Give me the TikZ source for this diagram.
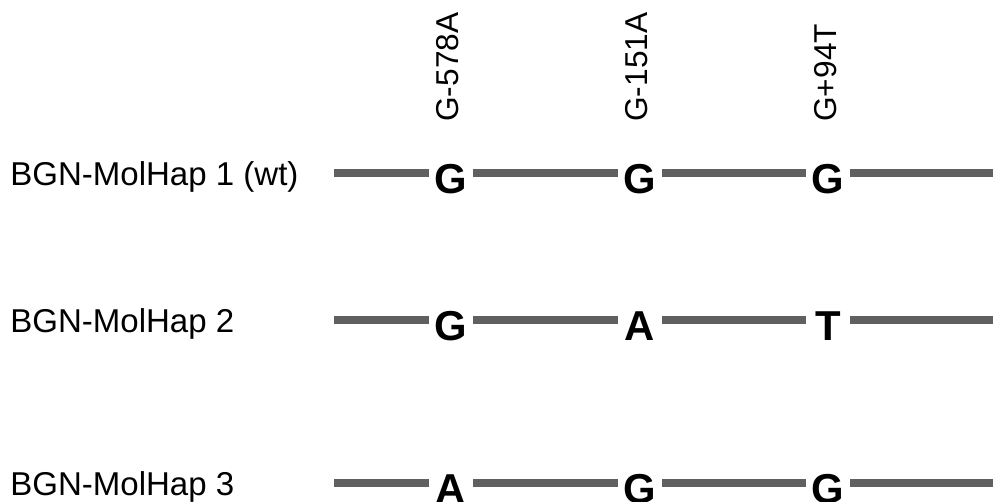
\documentclass[tikz,border=0pt]{standalone}
\usepackage{fontspec}
\setmainfont{Liberation Sans}
\definecolor{strandgray}{RGB}{96,96,96}
\begin{document}
\begin{tikzpicture}[x=0.02cm, y=-0.02cm,
  hap/.style={anchor=base west, inner sep=0, font=\fontsize{18.8}{22}\selectfont},
  snp/.style={rotate=90, anchor=west, inner sep=0, font=\fontsize{18}{22}\selectfont},
  allele/.style={inner sep=0, minimum width=0.88cm, text height=0.8cm, text depth=0, font=\bfseries\fontsize{23.8}{28}\selectfont},
  strand/.style={line width=0.16cm, strandgray}]
\useasboundingbox (0,0) rectangle (994,501);
% variant positions
\node[snp] (v1) at (448,122) {G-578A};
\node[snp] (v2) at (637,122) {G-151A};
\node[snp] (v3) at (826,122) {G+94T};
% haplotypes
\foreach \r/\y/\name/\a/\b/\c in {1/173/{BGN-MolHap 1 (wt)}/G/G/G, 2/320/{BGN-MolHap 2}/G/A/T, 3/483/{BGN-MolHap 3}/A/G/G}{
  \node[hap] (h\r) at (10,\y+12) {\name};
  \node[allele] (a\r) at (451,\y) {\a};
  \node[allele] (b\r) at (640,\y) {\b};
  \node[allele] (c\r) at (828,\y) {\c};
  \coordinate (s\r) at (334,\y);
  \coordinate (e\r) at (993,\y);
  \draw[strand] (s\r) -- (a\r) -- (b\r) -- (c\r) -- (e\r);
}
\end{tikzpicture}
\end{document}
